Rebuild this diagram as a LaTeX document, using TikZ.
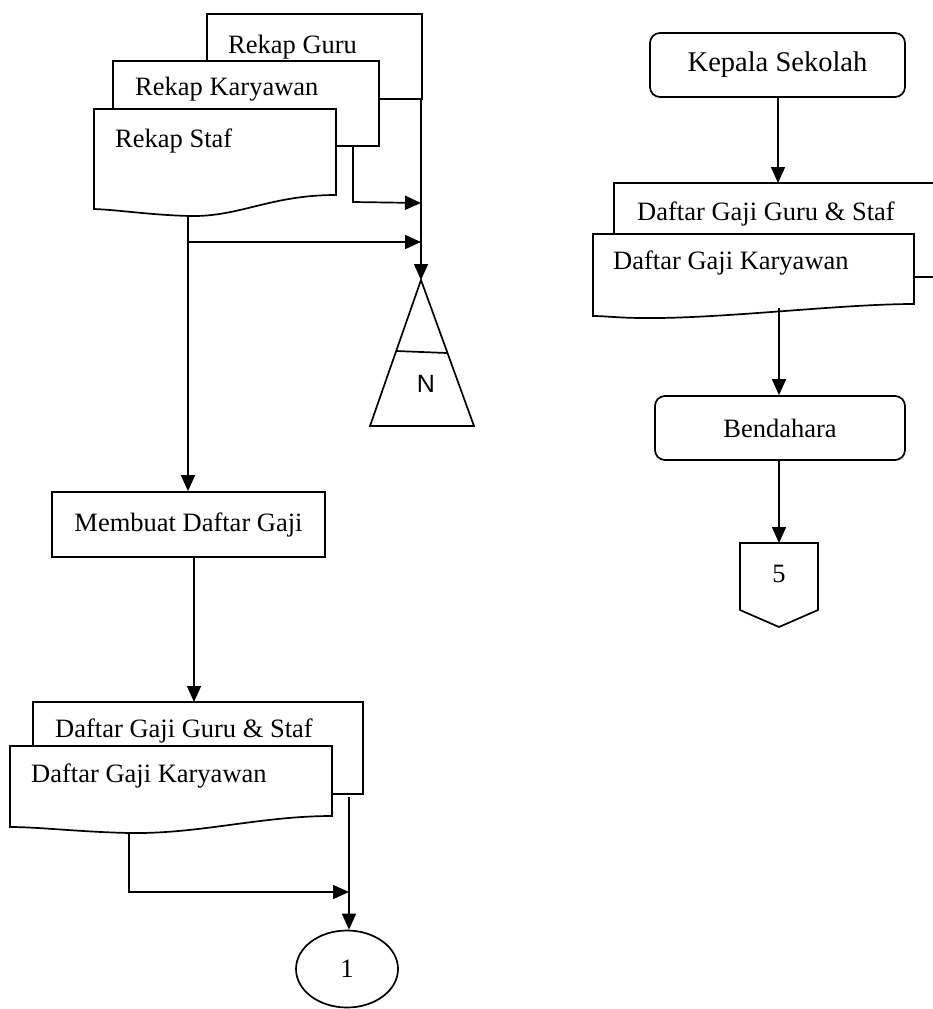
\documentclass[tikz,border=0pt]{standalone}
\usepackage{fontspec}
\setmainfont{Liberation Serif}
\newfontfamily\arialfont{Liberation Sans}
\usetikzlibrary{arrows.meta,shapes.geometric}
\tikzset{
  ln/.style={line width=1.7pt},
  arr/.style={ln, -{Triangle[length=16pt,width=14pt]}},
  shp/.style={ln, fill=white},
  lbl/.style={anchor=base west, inner sep=0pt, font=\fontsize{26.5}{30}\selectfont},
  ctr/.style={inner sep=0pt, font=\fontsize{26.5}{30}\selectfont},
  rbox/.style={draw, ln, rounded corners=10pt, inner sep=0pt, font=\fontsize{26.5}{30}\selectfont},
}
\begin{document}
\begin{tikzpicture}[x=1pt,y=-1pt]
\useasboundingbox (0,0) rectangle (933,1009);
\clip (0,0) rectangle (933,1009);

% ---------- top-left stack ----------
\draw[shp] (207,14) rectangle (422,99);
\node[lbl] (rg) at (228,53) {Rekap Guru};
\draw[shp] (113,61) rectangle (379,146);
\node[lbl] (rk) at (135,95) {Rekap Karyawan};
\draw[shp] (94,109) -- (336,109) -- (336,195)
   .. controls (270,195) and (240,217) .. (190,216)
   .. controls (150,215) and (120,210) .. (94,209) -- cycle;
\node[lbl] (rs) at (115,147) {Rekap Staf};

\coordinate (rgout) at (421,99);
\coordinate (rkout) at (353,146);
\coordinate (rkbend) at (353,202);
\coordinate (join1) at (421,203);
\coordinate (rsout) at (188,216);
\coordinate (branch) at (188,242);
\coordinate (join2) at (421,242);
\coordinate (triapex) at (421,280);

% triangle N
\draw[ln] (triapex) -- (474,426) -- (370,426) -- cycle;
\draw[ln] (396,351) -- (447,353);
\node[inner sep=0pt, font=\arialfont\fontsize{25}{28}\selectfont] (n) at (426,384) {N};

\draw[arr] (rgout) -- (triapex);
\draw[arr] (rkout) -- (rkbend) -- (join1);
\draw[arr] (branch) -- (join2);

% Membuat Daftar Gaji
\node[draw, ln, minimum width=273pt, minimum height=65pt, inner sep=0pt,
      font=\fontsize{26.5}{30}\selectfont] (mdg) at (188.5,524.5) {Membuat Daftar Gaji};
\draw[arr] (rsout) -- (rsout |- mdg.north);

% ---------- bottom-left stack ----------
\coordinate (mdgout) at (194,557);
\coordinate (lgsin) at (194,702);
\draw[arr] (mdgout) -- (lgsin);

\draw[shp] (33,702) rectangle (363,794);
\node[lbl] (lgs) at (55,737) {Daftar Gaji Guru \& Staf};
\draw[shp] (10,746) -- (332,746) -- (332,816)
   .. controls (260,816) and (200,834) .. (130,833)
   .. controls (80,832) and (40,827) .. (10,827) -- cycle;
\node[lbl] (lgk) at (31,782) {Daftar Gaji Karyawan};

\node[draw, ln, ellipse, minimum width=102pt, minimum height=77pt, inner sep=0pt,
      font=\fontsize{26.5}{30}\selectfont] (c1) at (347,969) {1};
\coordinate (lgkout) at (129,833);
\coordinate (lgkbend) at (129,892);
\coordinate (join3) at (349,892);
\coordinate (lgsout) at (349,797);
\draw[arr] (lgkout) -- (lgkbend) -- (join3);
\draw[arr] (lgsout) -- (lgsout |- c1.north);

% ---------- right column ----------
\node[rbox, minimum width=255pt, minimum height=64pt,
      font=\fontsize{28.5}{32}\selectfont] (ks) at (777.5,65) {Kepala Sekolah};

\draw[shp] (614,183) rectangle (950,277);
\node[lbl] (rgs) at (637,220) {Daftar Gaji Guru \& Staf};
\draw[shp] (593,234) -- (914,234) -- (914,304)
   .. controls (840,304) and (720,319) .. (643,318)
   .. controls (620,318) and (605,316) .. (593,316) -- cycle;
\node[lbl] (rgk) at (613,269) {Daftar Gaji Karyawan};

\coordinate (rgsin) at (778,183);
\draw[arr] (ks.south -| rgsin) -- (rgsin);

\node[rbox, minimum width=250pt, minimum height=64pt] (bd) at (780,428) {Bendahara};
\coordinate (rgkout) at (779,308);
\draw[arr] (rgkout) -- (rgkout |- bd.north);

\coordinate (optop) at (779,543);
\draw[ln] (740,543) -- (818,543) -- (818,610) -- (779,627) -- (740,610) -- cycle;
\node[ctr] (five) at (779,574) {5};
\draw[arr] (bd.south -| optop) -- (optop);
\end{tikzpicture}
\end{document}
